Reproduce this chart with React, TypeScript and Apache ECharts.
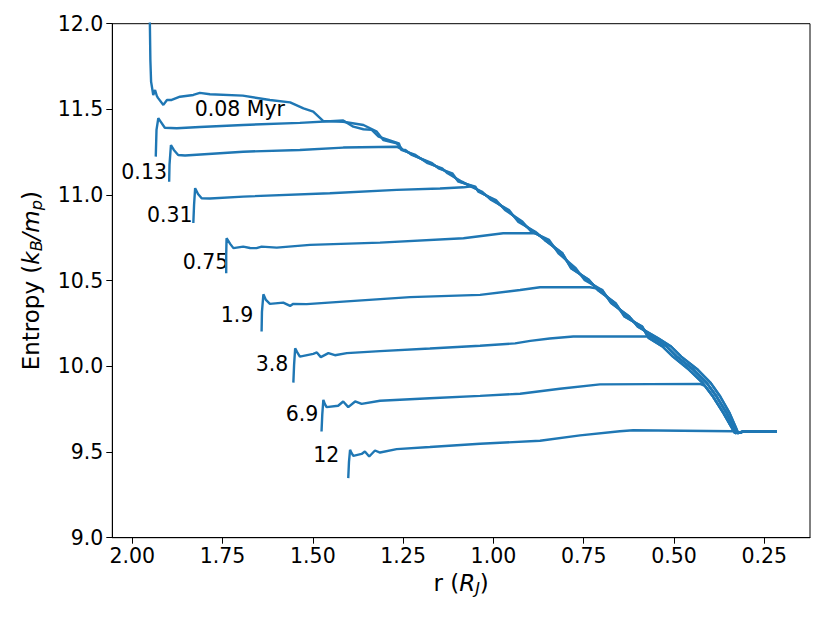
import React, { useEffect, useRef } from "react";
import * as echarts from "echarts";

// Shared steep profile (three interleaved traces read from the bundle)
const ENV_MAIN: number[][] = [
  [1.314, 11.341], [1.268, 11.302], [1.25, 11.263], [1.222, 11.234], [1.176, 11.186],
  [1.148, 11.156], [1.121, 11.127], [1.093, 11.078], [1.056, 11.049], [1.037, 11.019],
  [1.0, 10.971], [0.963, 10.913], [0.926, 10.845], [0.89, 10.786], [0.852, 10.738],
  [0.815, 10.66], [0.779, 10.573], [0.742, 10.505], [0.705, 10.446], [0.668, 10.369],
  [0.631, 10.291], [0.594, 10.232], [0.557, 10.165], [0.52, 10.116], [0.492, 10.057],
  [0.446, 9.98], [0.409, 9.902], [0.382, 9.824], [0.354, 9.727], [0.336, 9.649],
  [0.326, 9.61], [0.308, 9.62], [0.215, 9.62],
];
const ENV_B: number[][] = [
  [1.308, 11.341], [1.272, 11.302], [1.244, 11.263], [1.226, 11.234], [1.17, 11.186],
  [1.152, 11.156], [1.114, 11.127], [1.097, 11.078], [1.05, 11.049], [1.042, 11.019],
  [0.993, 10.971], [0.968, 10.913], [0.92, 10.845], [0.895, 10.786], [0.846, 10.738],
  [0.82, 10.66], [0.772, 10.573], [0.748, 10.505], [0.699, 10.446], [0.674, 10.369],
  [0.624, 10.291], [0.6, 10.232], [0.545, 10.165], [0.508, 10.116], [0.48, 10.057],
  [0.434, 9.98], [0.398, 9.902], [0.372, 9.824], [0.346, 9.727], [0.33, 9.649],
  [0.322, 9.61], [0.306, 9.62], [0.215, 9.622],
];
const ENV_C: number[][] = [
  [1.318, 11.341], [1.262, 11.302], [1.255, 11.263], [1.216, 11.234], [1.182, 11.186],
  [1.142, 11.156], [1.127, 11.127], [1.087, 11.078], [1.062, 11.049], [1.031, 11.019],
  [1.006, 10.971], [0.957, 10.913], [0.932, 10.845], [0.884, 10.786], [0.858, 10.738],
  [0.809, 10.66], [0.785, 10.573], [0.736, 10.505], [0.711, 10.446], [0.662, 10.369],
  [0.637, 10.291], [0.588, 10.232], [0.57, 10.165], [0.532, 10.116], [0.503, 10.057],
  [0.458, 9.98], [0.42, 9.902], [0.392, 9.824], [0.363, 9.727], [0.342, 9.649],
  [0.331, 9.61], [0.31, 9.618], [0.215, 9.618],
];

// Outer parts of each profile (r in R_J, entropy in k_B/m_p)
const HEAD_A: number[][] = [
  [1.953, 12.25], [1.95, 11.79], [1.948, 11.662], [1.942, 11.584], [1.937, 11.613],
  [1.932, 11.578], [1.929, 11.567], [1.914, 11.526], [1.904, 11.555], [1.891, 11.555],
  [1.868, 11.574], [1.831, 11.584], [1.813, 11.596], [1.785, 11.588], [1.694, 11.58],
  [1.619, 11.555], [1.563, 11.541], [1.526, 11.506], [1.499, 11.487], [1.471, 11.432],
  [1.416, 11.428], [1.36, 11.409], [1.323, 11.37], [1.305, 11.321], [1.268, 11.302],
];
const HEAD_B: number[][] = [
  [1.935, 11.224], [1.933, 11.38], [1.928, 11.448], [1.921, 11.427], [1.91, 11.393],
  [1.877, 11.39], [1.813, 11.397], [1.693, 11.409], [1.536, 11.421], [1.416, 11.435],
  [1.388, 11.399], [1.36, 11.384], [1.337, 11.38],
];
const HEAD_C: number[][] = [
  [1.898, 11.078], [1.897, 11.176], [1.893, 11.292], [1.885, 11.263], [1.873, 11.234],
  [1.854, 11.231], [1.693, 11.253], [1.536, 11.263], [1.416, 11.277], [1.268, 11.282],
  [1.25, 11.263],
];
const HEAD_D: number[][] = [
  [1.831, 10.837], [1.829, 10.942], [1.826, 11.04], [1.818, 11.006], [1.808, 10.981],
  [1.785, 10.98], [1.693, 10.991], [1.453, 11.01], [1.268, 11.03], [1.148, 11.038],
  [1.083, 11.045], [1.065, 11.05],
];
const HEAD_E: number[][] = [
  [1.74, 10.544], [1.74, 10.65], [1.739, 10.748], [1.729, 10.715], [1.72, 10.69],
  [1.693, 10.699], [1.674, 10.691], [1.656, 10.69], [1.642, 10.699], [1.6, 10.693],
  [1.508, 10.709], [1.314, 10.722], [1.083, 10.748], [0.973, 10.777], [0.88, 10.777],
];
const HEAD_F: number[][] = [
  [1.642, 10.203], [1.641, 10.318], [1.637, 10.421], [1.63, 10.388], [1.619, 10.365],
  [1.582, 10.372], [1.563, 10.353], [1.554, 10.365], [1.517, 10.363], [1.416, 10.378],
  [1.231, 10.404], [1.037, 10.417], [0.926, 10.446], [0.871, 10.462], [0.733, 10.462],
  [0.716, 10.455],
];
const HEAD_G: number[][] = [
  [1.554, 9.905], [1.552, 10.009], [1.549, 10.106], [1.544, 10.085], [1.536, 10.057],
  [1.499, 10.073], [1.489, 10.081], [1.478, 10.054], [1.457, 10.077], [1.439, 10.065],
  [1.406, 10.077], [1.314, 10.089], [1.176, 10.104], [1.037, 10.12], [0.94, 10.134],
  [0.898, 10.149], [0.844, 10.163], [0.779, 10.174], [0.575, 10.174], [0.561, 10.169],
];
const HEAD_H: number[][] = [
  [1.476, 9.62], [1.474, 9.717], [1.471, 9.805], [1.467, 9.781], [1.462, 9.762],
  [1.43, 9.77], [1.416, 9.795], [1.402, 9.762], [1.383, 9.795], [1.365, 9.781],
  [1.314, 9.799], [1.176, 9.814], [1.037, 9.828], [0.926, 9.84], [0.816, 9.869],
  [0.705, 9.895], [0.428, 9.898], [0.414, 9.886],
];
const HEAD_I: number[][] = [
  [1.402, 9.348], [1.4, 9.443], [1.397, 9.513], [1.393, 9.495], [1.388, 9.478],
  [1.365, 9.489], [1.356, 9.503], [1.344, 9.474], [1.328, 9.509], [1.314, 9.497],
  [1.268, 9.517], [1.176, 9.529], [1.037, 9.548], [0.871, 9.566], [0.76, 9.597],
  [0.65, 9.621], [0.613, 9.627], [0.337, 9.621],
];

const PROFILES: [number[][], number[][]][] = [
  [HEAD_A, ENV_MAIN], [HEAD_B, ENV_C], [HEAD_C, ENV_B], [HEAD_D, ENV_MAIN], [HEAD_E, ENV_C],
  [HEAD_F, ENV_B], [HEAD_G, ENV_MAIN], [HEAD_H, ENV_C], [HEAD_I, ENV_B],
];

// Time labels: [r, entropy] of the label's right edge / vertical centre
const LABEL_TEXTS = ["0.08 Myr", "0.13", "0.31", "0.75", "1.9", "3.8", "6.9", "12"];
const LABEL_POS: number[][] = [
  [1.577, 11.503], [1.904, 11.132], [1.833, 10.881], [1.734, 10.607],
  [1.665, 10.3], [1.568, 10.015], [1.485, 9.723], [1.427, 9.484],
];

const X_TICKS = [2.0, 1.75, 1.5, 1.25, 1.0, 0.75, 0.5, 0.25];
const X_MIN = 0.1234;
const X_MAX = 2.0554;
const Y_MIN = 9;
const Y_MAX = 12;

const FONT = "DejaVu Sans";

function buildProfile(head: number[][], env: number[][]): number[][] {
  const last = head[head.length - 1];
  return head.concat(env.filter((p) => p[0] < last[0] - 0.005 && p[1] <= last[1] + 0.01));
}

export default function App() {
  const ref = useRef<HTMLDivElement>(null);
  useEffect(() => {
    if (!ref.current) return;
    const chart = echarts.init(ref.current, null, { renderer: "svg" });
    const lineSeries = PROFILES.map(([h, e], i) => ({
      type: "line",
      name: "p" + i,
      data: buildProfile(h, e),
      showSymbol: false,
      symbol: "none",
      clip: true,
      lineStyle: { color: "#1f77b4", width: 2.4 },
      emphasis: { disabled: true },
    }));
    const labelSeries = {
      type: "scatter",
      data: LABEL_POS.map((p, i) => [p[0], p[1], LABEL_TEXTS[i]]),
      symbolSize: 0,
      silent: true,
      itemStyle: { opacity: 1, color: "#000" },
      label: {
        show: true,
        position: "left",
        distance: 0,
        formatter: (p: any) => p.data[2],
        fontSize: 20.5,
        fontFamily: FONT,
        color: "#000",
        opacity: 1,
      },
    };
    chart.setOption({
      animation: false,
      backgroundColor: "#fff",
      grid: {
        left: 112.3,
        right: 20,
        top: 23.7,
        bottom: 85.3,
        show: true,
        borderColor: "#000",
        borderWidth: 1,
      },
      xAxis: {
        type: "value",
        inverse: true,
        min: X_MIN,
        max: X_MAX,
        name: "r ({i|R}{s|J})",
        nameLocation: "middle",
        nameGap: 30,
        nameTextStyle: {
          fontSize: 23,
          fontFamily: FONT,
          color: "#000",
          rich: {
            i: { fontSize: 23, fontStyle: "italic", fontFamily: FONT, color: "#000" },
            s: { fontSize: 16, fontStyle: "italic", fontFamily: FONT, color: "#000", verticalAlign: "bottom", padding: [10, 0, 0, 0] },
          },
        },
        axisLine: { show: true, lineStyle: { color: "#000", width: 1 } },
        axisTick: { show: true, length: 6, lineStyle: { color: "#000" }, customValues: X_TICKS },
        axisLabel: {
          customValues: X_TICKS,
          formatter: (v: number) => v.toFixed(2),
          fontSize: 20.5,
          fontFamily: FONT,
          color: "#000",
          margin: 8,
        },
        splitLine: { show: false },
      },
      yAxis: {
        type: "value",
        min: Y_MIN,
        max: Y_MAX,
        interval: 0.5,
        name: "Entropy ({i|k}{s|B}{i|/m}{s|p})",
        nameLocation: "middle",
        nameGap: 68,
        nameRotate: 90,
        nameTextStyle: {
          fontSize: 23,
          fontFamily: FONT,
          color: "#000",
          rich: {
            i: { fontSize: 23, fontStyle: "italic", fontFamily: FONT, color: "#000" },
            s: { fontSize: 16, fontStyle: "italic", fontFamily: FONT, color: "#000", verticalAlign: "bottom", padding: [10, 0, 0, 0] },
          },
        },
        axisLine: { show: true, lineStyle: { color: "#000", width: 1 } },
        axisTick: { show: true, length: 6, lineStyle: { color: "#000" } },
        axisLabel: {
          formatter: (v: number) => v.toFixed(1),
          fontSize: 20.5,
          fontFamily: FONT,
          color: "#000",
          margin: 9,
        },
        splitLine: { show: false },
      },
      series: [...lineSeries, labelSeries],
    });
    return () => chart.dispose();
  }, []);
  return (
    <div
      ref={ref}
      style={{ position: "fixed", left: 0, top: 0, width: 830, height: 623 }}
    />
  );
}
